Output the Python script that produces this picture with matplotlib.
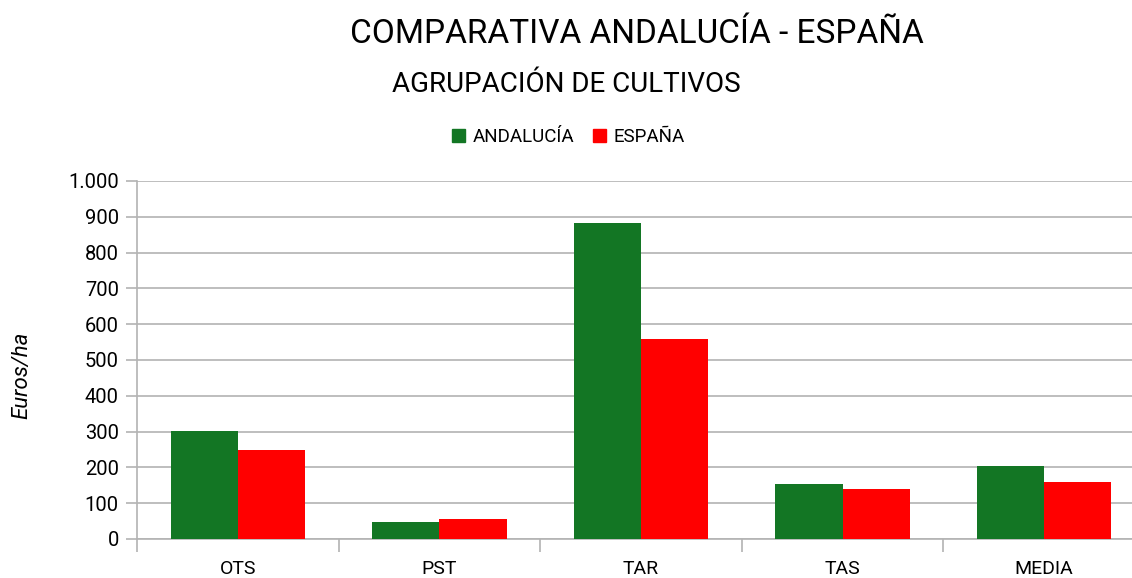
import matplotlib
matplotlib.use("Agg")
import matplotlib.pyplot as plt
import numpy as np
from matplotlib.ticker import FuncFormatter, FixedLocator
from matplotlib.patches import Patch

# datos
categorias = ["OTS", "PST", "TAR", "TAS", "MEDIA"]
andalucia = [302, 47, 883, 154, 204]
espana = [249, 56, 559, 140, 159]

plt.rcParams['font.family'] = ['Roboto', 'DejaVu Sans']

verde = '#137624'
rojo = '#ff0000'
gris = '#b3b3b3'

fig = plt.figure(figsize=(11.32, 5.78), dpi=100)
ax = fig.add_axes([0.121, 0.0675, 0.8905, 0.6194])

x = np.arange(len(categorias))
w = 0.333
ax.bar(x - w / 2, andalucia, w, color=verde, label='ANDALUCÍA', zorder=3)
ax.bar(x + w / 2, espana, w, color=rojo, label='ESPAÑA', zorder=3)

ax.set_xlim(-0.5, len(categorias) - 0.5)
ax.set_ylim(0, 1000)
ax.set_yticks(np.arange(0, 1001, 100))
ax.yaxis.set_major_formatter(FuncFormatter(lambda v, p: f"{int(v):,}".replace(",", ".")))
ax.yaxis.grid(True, color=gris, linewidth=1.2, zorder=0)

ax.set_xticks(x)
ax.set_xticklabels(categorias)
ax.xaxis.set_minor_locator(FixedLocator(np.arange(-0.5, len(categorias), 1)))
ax.tick_params(axis='x', which='major', length=0, labelsize=14, pad=15)
ax.tick_params(axis='x', which='minor', length=9, color=gris, width=1.2)
ax.tick_params(axis='y', length=8, color=gris, width=1.2, labelsize=14.5, pad=5)

for s in ['top', 'right']:
    ax.spines[s].set_visible(False)
for s in ['left', 'bottom']:
    ax.spines[s].set_color(gris)
    ax.spines[s].set_linewidth(1.2)

ax.set_ylabel('Euros/ha', fontsize=16, style='italic')
ax.yaxis.set_label_coords(-0.104, 0.458)

fig.text(0.563, 0.942, 'COMPARATIVA ANDALUCÍA - ESPAÑA', ha='center', va='center', fontsize=24)
fig.text(0.5, 0.853, 'AGRUPACIÓN DE CULTIVOS', ha='center', va='center', fontsize=20)

handles = [Patch(color=verde), Patch(color=rojo)]
fig.legend(handles, ['ANDALUCÍA', 'ESPAÑA'], loc='center', bbox_to_anchor=(0.502, 0.763),
           ncol=2, frameon=False, fontsize=13.5, handlelength=0.7, handleheight=0.7,
           handletextpad=0.4, columnspacing=1.0)

fig.savefig('out.png', dpi=100)
